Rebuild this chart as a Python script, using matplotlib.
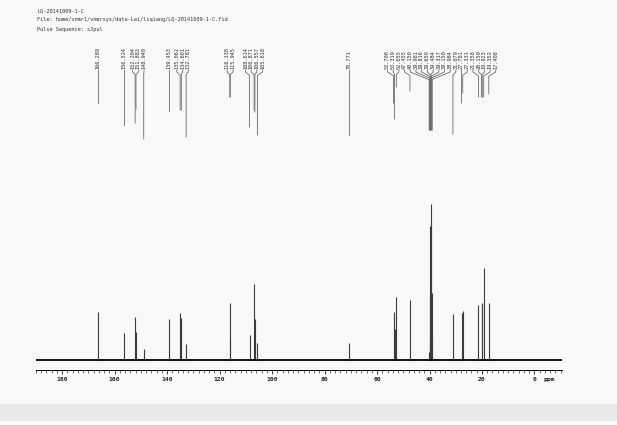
import matplotlib
matplotlib.use("Agg")
import matplotlib.pyplot as plt
from matplotlib.ticker import MultipleLocator
from matplotlib.patches import Rectangle

# ---------------- data ----------------
header_lines = [
    "LQ-20141009-1-C",
    "File: home/vnmr1/vnmrsys/data-Lei/liqiang/LQ-20141009-1-C.fid",
    "Pulse Sequence: s2pul",
]

peak_ppm = [166.289, 156.524, 152.204, 151.883, 148.940, 139.453, 135.062,
            134.601, 132.781, 116.138, 115.945, 108.614, 106.871, 106.557,
            105.618, 70.771, 53.700, 53.319, 52.655, 47.455, 40.150, 39.981,
            39.816, 39.650, 39.484, 39.317, 39.150, 38.984, 31.079, 27.781,
            27.331, 21.358, 20.159, 19.923, 19.352, 17.408]
peak_height = [48, 27, 43, 28, 11, 41, 47, 42, 16, 57, 20, 25, 76, 41, 17, 17,
               48, 31, 63, 60, 8, 22, 67, 134, 156, 134, 67, 22, 46, 47, 49,
               55, 54, 57, 92, 57]
peak_labels = ["%.3f" % p for p in peak_ppm]

tick_values = [180, 160, 140, 120, 100, 80, 60, 40, 20, 0]
tick_labels = ["180", "160", "140", "120", "100", "80", "60", "40", "20", "0"]

# ---------------- styling / layout ----------------
W, H = 617, 425
x_left_ppm, x_right_ppm = 190.0, -10.5
ax_left_px, ax_right_px = 36, 562
spine_y_px, top_px = 370, 40
base_px = 360                      # baseline pixel row
# lower end (pixel row) of each label's leader line
leader_end_px = [103, 125, 123, 109, 139, 111, 110, 110, 137, 97, 97, 127,
                 110, 112, 135, 135, 103, 119, 87, 91, 130, 130, 130, 130,
                 130, 130, 130, 130, 134, 103, 93, 97, 97, 97, 97, 94]
label_gap_px = 5.7
mono = "DejaVu Sans Mono"
fs = 3.8

fig = plt.figure(figsize=(W / 100, H / 100), dpi=100)
fig.patch.set_facecolor("#f8f8f8")
fig.patches.append(Rectangle((0, 1 - 421 / H), 1, 17 / H, transform=fig.transFigure,
                             facecolor="#e9e9e9", edgecolor="none", zorder=-5))

ax = fig.add_axes([ax_left_px / W, (H - spine_y_px) / H,
                   (ax_right_px - ax_left_px) / W, (spine_y_px - top_px) / H])
ax.patch.set_alpha(0)
ax.set_xlim(x_left_ppm, x_right_ppm)
ax.set_ylim(-(spine_y_px - base_px), spine_y_px - top_px - (spine_y_px - base_px))
for s in ["top", "left", "right"]:
    ax.spines[s].set_visible(False)
ax.spines["bottom"].set_linewidth(0.7)
ax.set_yticks([])

ax.set_xticks(tick_values)
ax.set_xticklabels(tick_labels, fontsize=4.6, family=mono, fontweight="bold")
ax.xaxis.set_minor_locator(MultipleLocator(2))
ax.tick_params(axis="x", which="major", direction="out", length=3, width=0.6,
               pad=2, colors="#222222")
ax.tick_params(axis="x", which="minor", direction="out", length=1.8, width=0.5,
               colors="#333333")
ax.annotate("ppm", xy=(-5.8, 0), xycoords=ax.get_xaxis_transform(),
            xytext=(0, -9), textcoords="offset pixels", ha="center", va="center",
            fontsize=4.6, family=mono, fontweight="bold", color="#222222")

# spectrum
ax.axhline(0, color="black", lw=1.3, zorder=3)
ax.vlines(peak_ppm, 0, peak_height, color="#3c3c3c", lw=0.8, zorder=2)

# ---------------- peak labels with leaders ----------------
px_per_ppm = (ax_right_px - ax_left_px) / (x_left_ppm - x_right_ppm)
gap = label_gap_px / px_per_ppm
order = sorted(range(len(peak_ppm)), key=lambda i: -peak_ppm[i])
clusters = [[i] for i in order]

def positions(cl):
    c = sum(peak_ppm[i] for i in cl) / len(cl)
    n = len(cl)
    return [c + gap * ((n - 1) / 2 - k) for k in range(n)]

merged = True
while merged:
    merged = False
    for j in range(len(clusters) - 1):
        a, b = positions(clusters[j]), positions(clusters[j + 1])
        if a[-1] - b[0] < gap:
            clusters[j] = clusters[j] + clusters[j + 1]
            del clusters[j + 1]
            merged = True
            break

label_x = {}
for cl in clusters:
    for i, p in zip(cl, positions(cl)):
        label_x[i] = p

def yd(px):
    return base_px - px

text_bottom_px = 69
for i in range(len(peak_ppm)):
    lx = label_x[i]
    ax.text(lx, yd(text_bottom_px), peak_labels[i], rotation=90, ha="center",
            va="bottom", fontsize=fs, family=mono, color="#333333")
    dx = abs(lx - peak_ppm[i]) * px_per_ppm
    y1 = 72
    y2 = y1 + min(2 + dx * 0.3, 13)
    ax.plot([lx, lx, peak_ppm[i], peak_ppm[i]],
            [yd(text_bottom_px + 1), yd(y1), yd(y2), yd(leader_end_px[i])],
            color="#6a6a6a", lw=0.6, solid_joinstyle="miter")

for k, line in enumerate(header_lines):
    fig.text(37 / W, 1 - (11 + 9 * k) / H, line, ha="left", va="center",
             fontsize=fs, family=mono, color="#333333")

fig.savefig("out.png", dpi=100, facecolor=fig.get_facecolor())
